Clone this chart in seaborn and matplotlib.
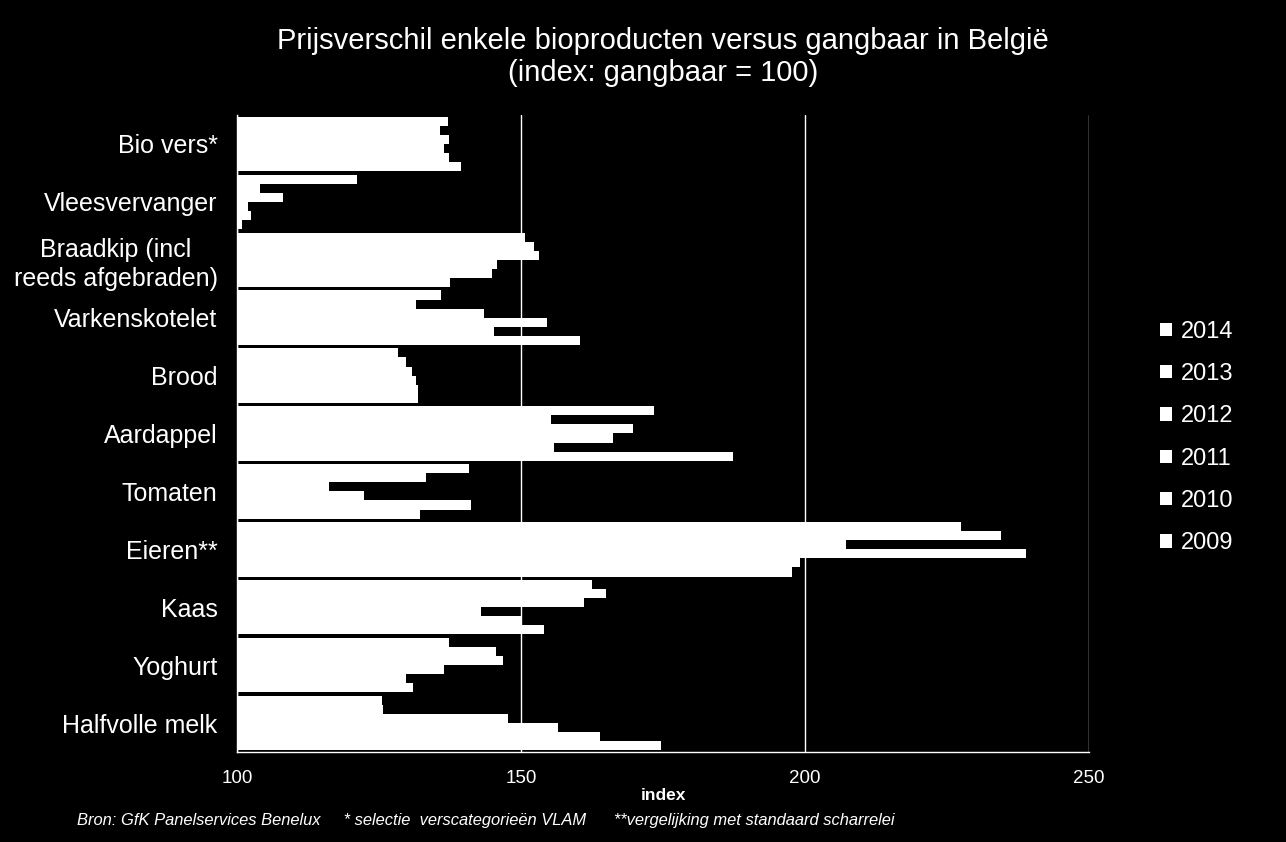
import numpy as np
import pandas as pd
import seaborn as sns
import matplotlib
matplotlib.use("Agg")
import matplotlib.pyplot as plt
from matplotlib.patches import Patch

categories = ["Bio vers*", "Vleesvervanger", "Braadkip (incl\nreeds afgebraden)", "Varkenskotelet",
              "Brood", "Aardappel", "Tomaten", "Eieren**", "Kaas", "Yoghurt", "Halfvolle melk"]
years = ["2014", "2013", "2012", "2011", "2010", "2009"]
v2014 = [137.1, 121.1, 150.7, 135.9, 128.3, 173.4, 140.8, 227.5, 162.5, 137.3, 125.5]
v2013 = [135.8, 104.0, 152.3, 131.5, 129.8, 155.3, 133.3, 234.5, 165.0, 145.6, 125.7]
v2012 = [137.3, 108.1, 153.2, 143.5, 130.8, 169.8, 116.2, 207.2, 161.1, 146.8, 147.7]
v2011 = [136.4, 101.9, 145.8, 154.5, 131.5, 166.2, 122.4, 238.9, 143.0, 136.4, 156.5]
v2010 = [137.3, 102.5, 144.9, 145.2, 131.8, 155.8, 141.2, 199.1, 150.2, 129.8, 163.9]
v2009 = [139.4, 100.9, 137.5, 160.4, 131.9, 187.3, 132.2, 197.7, 154.0, 131.0, 174.6]
x_ticks = [100, 150, 200, 250]

series = dict(zip(years, [v2014, v2013, v2012, v2011, v2010, v2009]))
df = pd.DataFrame([(c, y, series[y][i]) for y in years for i, c in enumerate(categories)],
                  columns=["cat", "year", "value"])

sns.set_theme(style="dark")
plt.rcParams['font.family'] = ['Liberation Sans', 'DejaVu Sans']

fig = plt.figure(figsize=(12.86, 8.42), dpi=100, facecolor="black")
ax = fig.add_axes([237/1286, 1-752/842, (1089-237)/1286, (752-115)/842])
ax.set_facecolor("black")

sns.barplot(data=df, y="cat", x="value", hue="year", hue_order=years, order=categories,
            palette=["white"]*6, width=0.94, saturation=1, edgecolor="none", linewidth=0,
            orient="h", ax=ax, legend=False)

ax.set_xlim(100, 250)
ax.set_ylim(len(categories)-0.5, -0.5)
ax.set_xticks(x_ticks)
ax.set_xticklabels([str(t) for t in x_ticks], color="white", fontsize=13.5)
ax.set_yticks(range(len(categories)))
ax.set_yticklabels(categories, color="white", fontsize=18, linespacing=1.25)
for lab in ax.get_yticklabels():
    lab.set_multialignment("center")
ax.tick_params(axis="y", which="major", length=0, pad=14)
ax.set_yticks(np.arange(-0.5, len(categories)+0.5, 1), minor=True)
ax.tick_params(axis="y", which="minor", length=5, color="white", width=1, direction="out")
ax.tick_params(axis="x", which="major", length=5, color="white", width=1, direction="out", pad=8)
ax.grid(axis="x", color="white", linewidth=1)
ax.grid(axis="y", visible=False)
ax.set_axisbelow(False)
for s in ["top", "right"]:
    ax.spines[s].set_visible(False)
for s in ["left", "bottom"]:
    ax.spines[s].set_visible(True)
    ax.spines[s].set_color("white")
    ax.spines[s].set_linewidth(1)
ax.set_ylabel("")
ax.set_xlabel("index", color="white", fontsize=12.5, fontweight="bold", labelpad=1)

fig.text(663/1286, 1-57/842,
         "Prijsverschil enkele bioproducten versus gangbaar in België\n(index: gangbaar = 100)",
         color="white", fontsize=21, ha="center", va="center", linespacing=1.2)

handles = [Patch(facecolor="white", edgecolor="none") for _ in years]
leg = fig.legend(handles, years, loc="upper left", bbox_to_anchor=(1148/1286, 1-309/842),
                 frameon=False, fontsize=17, labelcolor="white", handlelength=0.5,
                 handleheight=0.5, handletextpad=0.4, labelspacing=0.86, borderpad=0)

fig.text(77/1286, 1-820/842,
         "Bron: GfK Panelservices Benelux     * selectie  verscategorieën VLAM      **vergelijking met standaard scharrelei",
         color="white", fontsize=11.9, style="italic", va="center", ha="left",
         family=['Liberation Sans Narrow', 'Liberation Sans', 'DejaVu Sans'])

fig.savefig("out.png", dpi=100, facecolor="black")
